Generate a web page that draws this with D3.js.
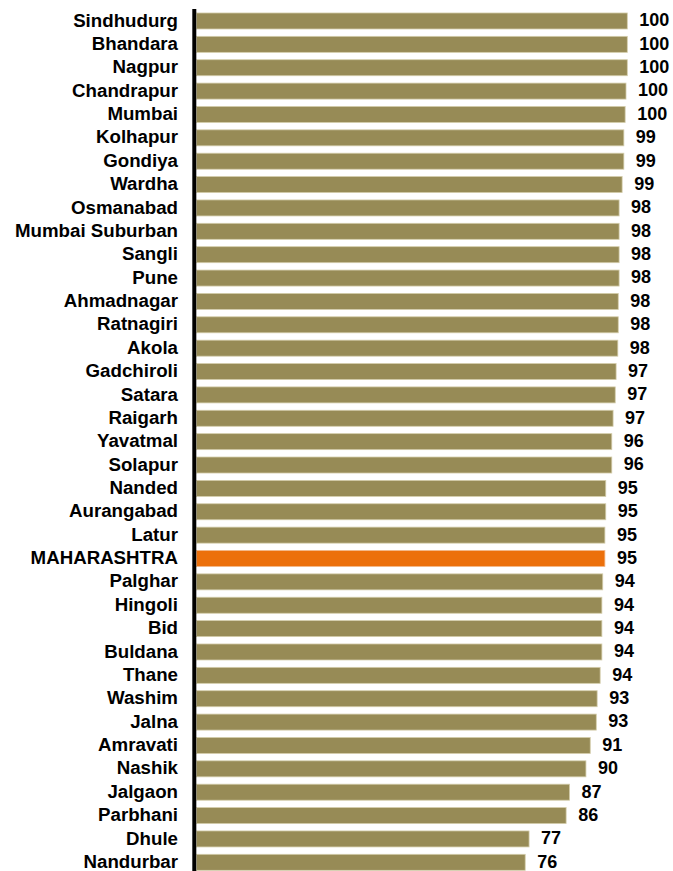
<!DOCTYPE html>
<html>
<head>
<meta charset="utf-8">
<script src="https://cdn.jsdelivr.net/npm/d3@7"></script>
<style>
  body { margin: 0; background: #fff; }
  text { font-family: "Liberation Sans", Arial, sans-serif; font-weight: bold; fill: #000; }
</style>
</head>
<body>
<div id="chart"></div>
<script>
// Chart size matches the window
const width = 673;
const height = 871;

// District names, top to bottom
const districts = [
    "Sindhudurg", "Bhandara", "Nagpur", "Chandrapur", "Mumbai", "Kolhapur",
    "Gondiya", "Wardha", "Osmanabad", "Mumbai Suburban", "Sangli", "Pune",
    "Ahmadnagar", "Ratnagiri", "Akola", "Gadchiroli", "Satara", "Raigarh",
    "Yavatmal", "Solapur", "Nanded", "Aurangabad", "Latur", "MAHARASHTRA",
    "Palghar", "Hingoli", "Bid", "Buldana", "Thane", "Washim", "Jalna",
    "Amravati", "Nashik", "Jalgaon", "Parbhani", "Dhule", "Nandurbar"
];

// Values (labels are rounded)
const values = [
    100.0, 100.0, 100.0, 99.7, 99.5, 99.2,
    99.2, 98.8, 98.1, 98.1, 98.1, 98.1,
    97.9, 97.9, 97.8, 97.4, 97.2, 96.7,
    96.4, 96.4, 95.0, 95.0, 94.8, 94.8,
    94.3, 94.1, 94.1, 94.1, 93.7, 93.0, 92.8,
    91.4, 90.4, 86.6, 85.8, 77.2, 76.3
];

const stateName = "MAHARASHTRA";

const data = districts.map((d, i) => ({ name: d, value: values[i] }));

const svg = d3.select("#chart")
    .append("svg")
    .attr("width", width)
    .attr("height", height);

// Scales
const x = d3.scaleLinear()
    .domain([0, 100])
    .range([196.5, 627.3]);

const y = d3.scaleBand()
    .domain(districts)
    .range([9.3, 874])
    .paddingInner(0.315)
    .paddingOuter(0.1575);

// Bars
svg.append("g")
    .selectAll("rect")
    .data(data)
    .enter()
    .append("rect")
    .attr("x", x(0))
    .attr("y", d => y(d.name))
    .attr("width", d => x(d.value) - x(0))
    .attr("height", y.bandwidth())
    .attr("fill", d => d.name === stateName ? "#ec700b" : "#978b56")
    .attr("stroke", d => d.name === stateName ? "#f3b98a" : "#d4cdab")
    .attr("stroke-width", 0.8);

// Category labels
svg.append("g")
    .selectAll("text")
    .data(data)
    .enter()
    .append("text")
    .attr("x", 178)
    .attr("y", d => y(d.name) + y.bandwidth() / 2)
    .attr("dy", "0.3em")
    .attr("text-anchor", "end")
    .style("font-size", "18.7px")
    .text(d => d.name);

// Value labels
svg.append("g")
    .selectAll("text")
    .data(data)
    .enter()
    .append("text")
    .attr("x", d => x(d.value) + 12)
    .attr("y", d => y(d.name) + y.bandwidth() / 2)
    .attr("dy", "0.3em")
    .style("font-size", "18px")
    .text(d => Math.round(d.value));

// Thick vertical axis line
svg.append("line")
    .attr("x1", 194.3)
    .attr("x2", 194.3)
    .attr("y1", 9)
    .attr("y2", height)
    .attr("stroke", "#000")
    .attr("stroke-width", 4);
</script>
</body>
</html>
